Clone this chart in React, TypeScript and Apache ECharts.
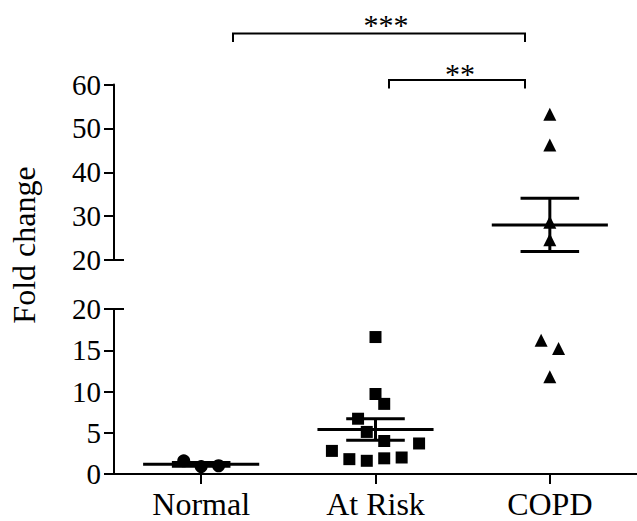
import React, { useEffect, useRef } from "react";
import * as echarts from "echarts";

const categories = ["Normal", "At Risk", "COPD"];
const normalValues = [1.6, 0.9, 1.0];
const normalJitter = [-2, 0, 2];
const atRiskValues = [16.6, 9.7, 8.5, 6.7, 5.1, 4.0, 3.7, 2.8, 1.8, 1.6, 1.9, 2.0];
const atRiskJitter = [0, 0, 1, -2, -1, 1, 5, -5, -3, -1, 1, 3];
const copdValues = [53.2, 46.2, 28.6, 24.6, 16.2, 15.2, 11.8];
const copdJitter = [0, 0, 0, 0, -1, 1, 0];
const groupMeans = [1.17, 5.4, 28.0];
const groupSems = [0.22, 1.3, 6.05];
const upperTicks = { min: 20, max: 60, interval: 10 };
const lowerTicks = { min: 0, max: 20, interval: 5 };
const breakValue = 20;

const FONT = '"Liberation Serif", "Times New Roman", serif';
const JITTER_STEP = 0.05;

export default function App() {
  const ref = useRef<HTMLDivElement>(null);
  useEffect(() => {
    if (!ref.current) return;
    const chart = echarts.init(ref.current, undefined, { renderer: "svg" });

    const groups = [
      { values: normalValues, jitter: normalJitter, symbol: "circle", size: 13 },
      { values: atRiskValues, jitter: atRiskJitter, symbol: "rect", size: 12 },
      { values: copdValues, jitter: copdJitter, symbol: "triangle", size: 13 },
    ];

    const scatterSeries: any[] = [];
    groups.forEach((g, gi) => {
      const center = gi + 0.5;
      const pts = g.values.map((v, i) => [center + g.jitter[i] * JITTER_STEP, v]);
      const low = pts.filter((p) => p[1] < breakValue);
      const high = pts.filter((p) => p[1] >= breakValue);
      const base = {
        type: "scatter",
        symbol: g.symbol,
        symbolSize: g.size,
        itemStyle: { color: "#000", opacity: 1 },
        silent: true,
        z: 3,
      };
      if (low.length) scatterSeries.push({ ...base, xAxisIndex: 1, yAxisIndex: 1, data: low });
      if (high.length) scatterSeries.push({ ...base, xAxisIndex: 2, yAxisIndex: 0, data: high });
    });

    const errData = groupMeans.map((m, i) => [i + 0.5, m, groupSems[i]]);
    const renderErr = (params: any, api: any) => {
      const c = api.value(0);
      const m = api.value(1);
      const s = api.value(2);
      const style = { stroke: "#000", lineWidth: 3 };
      const p1 = api.coord([c - 0.333, m]);
      const p2 = api.coord([c + 0.333, m]);
      const t1 = api.coord([c - 0.168, m + s]);
      const t2 = api.coord([c + 0.168, m + s]);
      const b1 = api.coord([c - 0.168, m - s]);
      const b2 = api.coord([c + 0.168, m - s]);
      const vc = api.coord([c, m + s]);
      const vb = api.coord([c, m - s]);
      return {
        type: "group",
        children: [
          { type: "line", shape: { x1: p1[0], y1: p1[1], x2: p2[0], y2: p2[1] }, style },
          { type: "line", shape: { x1: t1[0], y1: t1[1], x2: t2[0], y2: t2[1] }, style },
          { type: "line", shape: { x1: b1[0], y1: b1[1], x2: b2[0], y2: b2[1] }, style },
          { type: "line", shape: { x1: vc[0], y1: vc[1], x2: vb[0], y2: vb[1] }, style },
        ],
      };
    };

    const lowErr = errData.filter((d) => d[1] < breakValue);
    const highErr = errData.filter((d) => d[1] >= breakValue);

    const axisLine = { show: true, lineStyle: { color: "#000", width: 2 } };
    const axisTick = { show: true, length: 10, lineStyle: { color: "#000", width: 2 } };
    const yLabel = { color: "#000", fontFamily: FONT, fontSize: 29, margin: 13 };

    chart.setOption({
      animation: false,
      grid: [
        { left: 114, top: 84.5, width: 528, height: 175.5 },
        { left: 114, top: 309, width: 528, height: 165 },
      ],
      xAxis: [
        {
          type: "category",
          gridIndex: 1,
          data: categories,
          boundaryGap: true,
          axisLine,
          axisTick: { ...axisTick, alignWithLabel: true },
          axisLabel: { color: "#000", fontFamily: FONT, fontSize: 32, margin: 14 },
          splitLine: { show: false },
        },
        { type: "value", gridIndex: 1, min: 0, max: 3, show: false },
        { type: "value", gridIndex: 0, min: 0, max: 3, show: false },
      ],
      yAxis: [
        {
          type: "value",
          gridIndex: 0,
          min: upperTicks.min,
          max: upperTicks.max,
          interval: upperTicks.interval,
          axisLine,
          axisTick,
          axisLabel: yLabel,
          splitLine: { show: false },
        },
        {
          type: "value",
          gridIndex: 1,
          min: lowerTicks.min,
          max: lowerTicks.max,
          interval: lowerTicks.interval,
          axisLine,
          axisTick,
          axisLabel: yLabel,
          splitLine: { show: false },
        },
      ],
      series: [
        ...scatterSeries,
        { type: "custom", xAxisIndex: 1, yAxisIndex: 1, data: lowErr, renderItem: renderErr, silent: true, z: 4 },
        { type: "custom", xAxisIndex: 2, yAxisIndex: 0, data: highErr, renderItem: renderErr, silent: true, z: 4 },
      ],
      graphic: [
        { type: "line", shape: { x1: 113, y1: 260, x2: 124, y2: 260 }, style: { stroke: "#000", lineWidth: 2 } },
        { type: "line", shape: { x1: 113, y1: 309, x2: 124, y2: 309 }, style: { stroke: "#000", lineWidth: 2 } },
        {
          type: "polyline",
          shape: { points: [[233, 42], [233, 33.5], [525, 33.5], [525, 42]] },
          style: { stroke: "#000", lineWidth: 2, fill: "none" },
        },
        {
          type: "polyline",
          shape: { points: [[389, 88.5], [389, 80], [525, 80], [525, 88.5]] },
          style: { stroke: "#000", lineWidth: 2, fill: "none" },
        },
        {
          type: "text",
          x: 386,
          y: 24,
          style: { text: "***", font: `30px ${FONT}`, fill: "#000", align: "center", verticalAlign: "middle" },
        },
        {
          type: "text",
          x: 460,
          y: 73,
          style: { text: "**", font: `30px ${FONT}`, fill: "#000", align: "center", verticalAlign: "middle" },
        },
        {
          type: "text",
          x: 24,
          y: 245,
          rotation: Math.PI / 2,
          style: { text: "Fold change", font: `32px ${FONT}`, fill: "#000", align: "center", verticalAlign: "middle" },
        },
      ],
    });
    return () => chart.dispose();
  }, []);
  return (
    <div
      ref={ref}
      style={{ position: "fixed", left: 0, top: 0, width: 637, height: 521, background: "#fff" }}
    />
  );
}
